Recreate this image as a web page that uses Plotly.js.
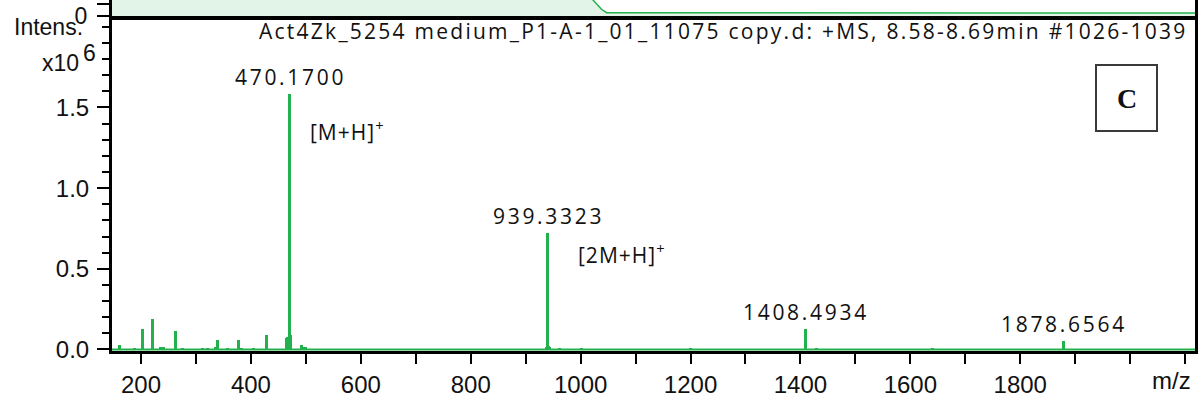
<!DOCTYPE html>
<html>
<head>
<meta charset="utf-8">
<script src="https://cdn.plot.ly/plotly-3.0.1.min.js"></script>
<style>
html,body{margin:0;padding:0;background:#fff;}
#chart{width:1201px;height:403px;}
</style>
</head>
<body>
<div id="chart"></div>
<script>
// ---- spectrum data (intensity in units of 10^6) ----
const peakMz = [161, 189, 202, 221, 236, 241, 262, 276, 312, 321, 335, 340, 358, 377, 383, 405, 428,
  464, 467, 470.17, 472.5, 492, 496, 499, 937, 939.33, 941, 944, 961, 1002, 1200, 1408.49, 1430, 1641, 1878.66];
const peakInt = [0.025, 0.010, 0.128, 0.190, 0.012, 0.012, 0.116, 0.010, 0.010, 0.010, 0.012, 0.056, 0.010, 0.056, 0.010, 0.010, 0.087,
  0.068, 0.075, 1.581, 0.087, 0.025, 0.012, 0.012, 0.012, 0.722, 0.020, 0.015, 0.010, 0.008, 0.008, 0.125, 0.010, 0.008, 0.052];

// labelled peaks
const labelMz = [470.17, 939.33, 1408.49, 1878.66];
const labelInt = [1.581, 0.722, 0.125, 0.052];
const labelText = ["470.1700", "939.3323", "1408.4934", "1878.6564"];
const adductMz = [470.17, 939.33];
const adductInt = [1.581, 0.722];
const adductText = ["[M+H]<sup>+</sup>", "[2M+H]<sup>+</sup>"];

// chromatogram strip (upper panel, cut off)
const chromTime = [0, 7.9, 7.995, 8.06, 8.135, 8.22, 18];
const chromInt = [2.5, 2.2, 1.6, 1.2, 0.67, 0.33, 0.30];

// axes
const xRange = [147.2, 2118];
const xTickVals = [200, 400, 600, 800, 1000, 1200, 1400, 1600, 1800];
const xMinorVals = [300, 500, 700, 900, 1100, 1300, 1500, 1700, 1900, 2000, 2100];
const yRange = [-0.0099, 2.061];
const yTickVals = [0, 0.5, 1.0, 1.5];
const yTickText = ["0.0", "0.5", "1.0", "1.5"];

const titleText = "Act4Zk_5254 medium_P1-A-1_01_11075 copy.d: +MS, 8.58-8.69min #1026-1039";

const GREEN = "#22b14c";
const LABEL_FONT = {family: "Open Sans", size: 21, color: "#111"};
const AX_FONT = {family: "Liberation Sans", size: 24, color: "#111"};
const SP = (t, s) => '<span style="letter-spacing:' + s + 'px">' + t + '</span>';

const traces = [
  {type: "scatter", mode: "lines", x: chromTime, y: chromInt, xaxis: "x2", yaxis: "y2",
   fill: "tozeroy", fillcolor: "#e2f3e7", line: {color: GREEN, width: 1.5}, hoverinfo: "skip"},
  {type: "scatter", mode: "lines", x: xRange, y: [0, 0], line: {color: GREEN, width: 2}, hoverinfo: "skip"},
  {type: "bar", x: peakMz, y: peakInt, width: 5.5, marker: {color: GREEN, line: {width: 0}}}
];

const annotations = [];
labelMz.forEach((m, i) => annotations.push({
  x: m, y: labelInt[i], xref: "x", yref: "y", text: SP(labelText[i], 2.7), showarrow: false,
  xanchor: "center", yanchor: "middle", yshift: 17, xshift: 1, font: LABEL_FONT
}));
adductMz.forEach((m, i) => annotations.push({
  x: m, y: adductInt[i], xref: "x", yref: "y", text: SP(adductText[i], 1), showarrow: false,
  xanchor: "left", yanchor: "middle", xshift: i === 0 ? 19 : 29, yshift: i === 0 ? -36 : -21, font: LABEL_FONT
}));
annotations.push({xref: "paper", yref: "paper", x: (257 - 112) / 1083, y: (351 - 31) / 351, text: SP(titleText, 2.25),
  showarrow: false, xanchor: "left", yanchor: "middle", font: LABEL_FONT});
annotations.push({xref: "paper", yref: "paper", x: (85 - 112) / 1083, y: (351 - 27) / 351, text: "Intens.",
  showarrow: false, xanchor: "right", yanchor: "middle", font: {family: "Liberation Sans", size: 23, color: "#111"}});
annotations.push({xref: "paper", yref: "paper", x: (81 - 112) / 1083, y: (351 - 63) / 351, text: "x10",
  showarrow: false, xanchor: "right", yanchor: "middle", font: {family: "Liberation Sans", size: 23, color: "#111"}});
annotations.push({xref: "paper", yref: "paper", x: (81 - 112) / 1083, y: (351 - 53) / 351, text: "6",
  showarrow: false, xanchor: "left", yanchor: "middle", font: {family: "Liberation Sans", size: 23, color: "#111"}});
annotations.push({xref: "paper", yref: "paper", x: (1171 - 112) / 1083, y: (351 - 380) / 351, text: "m/z",
  showarrow: false, xanchor: "center", yanchor: "middle", font: {family: "Liberation Sans", size: 24, color: "#111"}});
annotations.push({xref: "paper", yref: "paper", x: (1126.5 - 112) / 1083, y: (351 - 98) / 351, text: "<b>C</b>",
  showarrow: false, xanchor: "center", yanchor: "middle", font: {family: "Liberation Serif", size: 28, color: "#111"}});

const layout = {
  width: 1201, height: 403,
  margin: {l: 112, r: 6, t: 0, b: 52, pad: 0},
  paper_bgcolor: "#fff", plot_bgcolor: "rgba(0,0,0,0)",
  showlegend: false, bargap: 0,
  font: {family: "Liberation Sans", size: 22, color: "#111"},
  xaxis: {range: xRange, domain: [0, 1], anchor: "y", showgrid: false, zeroline: false,
    showline: true, linecolor: "#000", linewidth: 3,
    tickmode: "array", tickvals: xTickVals, ticks: "outside", ticklen: 10, tickwidth: 2, tickcolor: "#000",
    tickfont: AX_FONT,
    minor: {tickmode: "array", tickvals: xMinorVals, ticks: "outside", ticklen: 10, tickwidth: 2, tickcolor: "#000", showgrid: false}},
  yaxis: {range: yRange, domain: [0, (351 - 17) / 351], anchor: "x", showgrid: false, zeroline: false,
    showline: true, mirror: true, linecolor: "#000", linewidth: 3,
    tickmode: "array", tickvals: yTickVals, ticktext: yTickText, ticks: "outside", ticklen: 12, tickwidth: 2, tickcolor: "#000",
    ticklabelstandoff: 3, tickfont: AX_FONT,
    minor: {dtick: 0.1, tick0: 0, ticks: "outside", ticklen: 7, tickwidth: 2, tickcolor: "#000", showgrid: false}},
  xaxis2: {range: [0, 18], domain: [0, 1], anchor: "y2", showgrid: false, zeroline: false,
    showline: true, linecolor: "#000", linewidth: 4, showticklabels: false, ticks: ""},
  yaxis2: {range: [0, 1.6], domain: [(351 - 16) / 351, 1], anchor: "x2", showgrid: false, zeroline: false,
    showline: true, mirror: true, linecolor: "#000", linewidth: 3,
    tickmode: "array", tickvals: [0, 1.2], ticktext: ["0", " "], ticks: "outside", ticklen: 12, tickwidth: 2, tickcolor: "#000",
    ticklabelstandoff: 5, tickfont: {family: "Liberation Sans", size: 23, color: "#111"}},
  shapes: [{type: "rect", xref: "paper", yref: "paper",
    x0: (1096 - 112) / 1083, x1: (1157 - 112) / 1083, y0: (351 - 131) / 351, y1: (351 - 65) / 351,
    line: {color: "#3a3a3a", width: 2}, fillcolor: "rgba(0,0,0,0)"}],
  annotations: annotations
};

Plotly.newPlot("chart", traces, layout, {staticPlot: true, displayModeBar: false});
</script>
</body>
</html>
